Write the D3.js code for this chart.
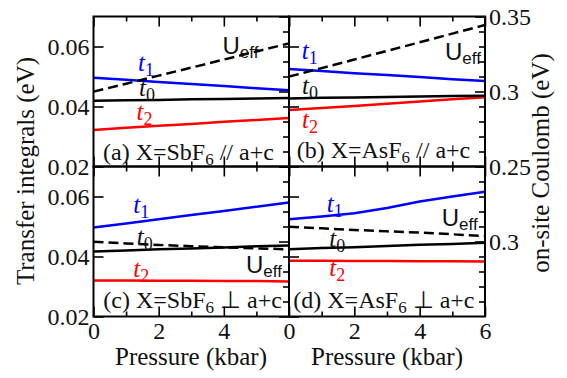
<!DOCTYPE html>
<html>
<head>
<meta charset="utf-8">
<script src="https://cdn.jsdelivr.net/npm/d3@7"></script>
<style>
svg text { font-family: serif !important; }
svg text.sans { font-family: sans-serif !important; }
</style>
</head>
<body style="margin:0">
<svg id="chart" width="567" height="378"></svg>
<script>
// pressure (kbar)
var pressure = [0, 1, 2, 3, 4, 5, 6];

// (a) X=SbF6 // a+c
var a_t1 = [0.0496, 0.0489, 0.0482, 0.0475, 0.0468, 0.0461, 0.0454];
var a_t0 = [0.0419, 0.0421, 0.0422, 0.0424, 0.0425, 0.0427, 0.0428];
var a_t2 = [0.0322, 0.0329, 0.0336, 0.0342, 0.0349, 0.0355, 0.0362];
var a_ueff = [0.2999, 0.3052, 0.3106, 0.3159, 0.3213, 0.3267, 0.3321];

// (b) X=AsF6 // a+c
var b_t1 = [0.0525, 0.0518, 0.0511, 0.0505, 0.0498, 0.0491, 0.0485];
var b_t0 = [0.0427, 0.0429, 0.0430, 0.0432, 0.0433, 0.0435, 0.0436];
var b_t2 = [0.0388, 0.0395, 0.0402, 0.0409, 0.0417, 0.0424, 0.0431];
var b_ueff = [0.3099, 0.3156, 0.3213, 0.3271, 0.3328, 0.3386, 0.3443];

// (c) X=SbF6 perp a+c
var c_t1 = [0.0497, 0.0510, 0.0524, 0.0538, 0.0552, 0.0566, 0.0580];
var c_t0 = [0.0417, 0.0420, 0.0424, 0.0427, 0.0430, 0.0434, 0.0437];
var c_t2 = [0.0320, 0.0320, 0.0319, 0.0319, 0.0318, 0.0318, 0.0317];
var c_ueff = [0.2999, 0.2987, 0.2977, 0.2969, 0.2961, 0.2954, 0.2948];

// (d) X=AsF6 perp a+c
var d_t1 = [0.0524, 0.0533, 0.0544, 0.0562, 0.0583, 0.0600, 0.0616];
var d_t0 = [0.0424, 0.0428, 0.0431, 0.0435, 0.0439, 0.0442, 0.0446];
var d_t2 = [0.0386, 0.0386, 0.0385, 0.0385, 0.0384, 0.0384, 0.0383];
var d_ueff = [0.3099, 0.3088, 0.3077, 0.3068, 0.3059, 0.3048, 0.3037];

var panelNames = ["(a) X=SbF", "(b) X=AsF", "(c) X=SbF", "(d) X=AsF"];
var panelDirs = [" // a+c", " // a+c", " \u22a5 a+c", " \u22a5 a+c"];

var leftTicks = [0.02, 0.04, 0.06];
var rightTicks = [0.25, 0.3, 0.35];
var rightMinor = [0.26, 0.27, 0.28, 0.29, 0.31, 0.32, 0.33, 0.34];
var xMajor = [0, 2, 4, 6];
var xMinor = [1, 3, 5];

var svg = d3.select("#chart").attr("font-family", "serif");

function serif(sel) {
  return sel.attr("font-family", "serif").style("font-family", "serif");
}

var colX = [[93.5, 289], [289, 485]];
var rowY = [[166.5, 16.5], [316.5, 166.5]];

// label offsets in px from the panel's top-left corner
var panels = [
  {col: 0, row: 0, t1: a_t1, t0: a_t0, t2: a_t2, u: a_ueff,
   lt1: [44.5, 54.5], lt0: [45.5, 79], lt2: [43, 103.5], lu: [129, 37], lp: [9.5, 143]},
  {col: 1, row: 0, t1: b_t1, t0: b_t0, t2: b_t2, u: b_ueff,
   lt1: [12.7, 42], lt0: [13, 77], lt2: [13, 111.5], lu: [156, 43.5], lp: [7.7, 141.5]},
  {col: 0, row: 1, t1: c_t1, t0: c_t0, t2: c_t2, u: c_ueff,
   lt1: [39.8, 46], lt0: [43.2, 78.5], lt2: [39.8, 110], lu: [152.5, 106.8], lp: [9.8, 141.8]},
  {col: 1, row: 1, t1: d_t1, t0: d_t0, t2: d_t2, u: d_ueff,
   lt1: [37.7, 45.2], lt0: [40.3, 80], lt2: [40.3, 109.5], lu: [152.7, 59.5], lp: [4.3, 141.8]}
];

panels.forEach(function(p, i) {
  var x = d3.scaleLinear().domain([0, 6]).range(colX[p.col]);
  var y = d3.scaleLinear().domain([0.02, 0.07]).range(rowY[p.row]);
  var u = d3.scaleLinear().domain([0.25, 0.35]).range(rowY[p.row]);
  var x0 = x.range()[0], x1 = x.range()[1];
  var y0 = y.range()[1], y1 = y.range()[0];

  var g = svg.append("g");
  var clipId = "clip" + i;
  g.append("clipPath").attr("id", clipId).append("rect")
    .attr("x", x0).attr("y", y0).attr("width", x1 - x0).attr("height", y1 - y0);

  var plot = g.append("g").attr("clip-path", "url(#" + clipId + ")");
  var lineY = d3.line().x(function(d, j) { return x(pressure[j]); }).y(function(d) { return y(d); });
  var lineU = d3.line().x(function(d, j) { return x(pressure[j]); }).y(function(d) { return u(d); });

  plot.append("path").attr("d", lineY(p.t2)).attr("fill", "none").attr("stroke", "#ff0000").attr("stroke-width", 2.5);
  plot.append("path").attr("d", lineY(p.t0)).attr("fill", "none").attr("stroke", "#000").attr("stroke-width", 2.5);
  plot.append("path").attr("d", lineY(p.t1)).attr("fill", "none").attr("stroke", "#0000ff").attr("stroke-width", 2.5);
  plot.append("path").attr("d", lineU(p.u)).attr("fill", "none").attr("stroke", "#000").attr("stroke-width", 2.5)
    .attr("stroke-dasharray", "10,5");

  // axes, ticks inward
  var showX = p.row == 1;
  var xt = p.col == 0 ? [0, 2, 4] : xMajor;
  var axes = g.append("g");
  axes.append("g").attr("transform", "translate(0," + y1 + ")")
    .call(d3.axisBottom(x).tickValues(showX ? xt : xMajor).tickSize(-10).tickPadding(5.5)
      .tickFormat(showX ? d3.format("d") : ""));
  axes.append("g").attr("transform", "translate(0," + y1 + ")")
    .call(d3.axisBottom(x).tickValues(xMinor).tickSize(-5).tickFormat(""));
  axes.append("g").attr("transform", "translate(0," + y0 + ")")
    .call(d3.axisTop(x).tickValues(xMajor).tickSize(-10).tickFormat(""));
  axes.append("g").attr("transform", "translate(0," + y0 + ")")
    .call(d3.axisTop(x).tickValues(xMinor).tickSize(-5).tickFormat(""));

  axes.append("g").attr("transform", "translate(" + x0 + ",0)")
    .call(d3.axisLeft(y).tickValues(leftTicks).tickSize(-10).tickPadding(4)
      .tickFormat(p.col == 0 ? d3.format(".2f") : ""));

  var rt = p.row == 0 ? rightTicks : [0.3];
  axes.append("g").attr("transform", "translate(" + x1 + ",0)")
    .call(d3.axisRight(u).tickValues(p.col == 1 ? rt : rightTicks).tickSize(-10).tickPadding(4)
      .tickFormat(p.col == 1 ? function(d) { return String(+d.toFixed(2)); } : ""));
  axes.append("g").attr("transform", "translate(" + x1 + ",0)")
    .call(d3.axisRight(u).tickValues(rightMinor).tickSize(-6).tickFormat(""));

  axes.selectAll(".domain").remove();
  serif(axes.selectAll("g").attr("font-size", 24));
  axes.selectAll(".tick line").attr("stroke", "#000").attr("stroke-width", 1.6);
  serif(axes.selectAll(".tick text")).attr("font-size", 24).attr("fill", "#111");

  g.append("rect").attr("x", x0).attr("y", y0).attr("width", x1 - x0).attr("height", y1 - y0)
    .attr("fill", "none").attr("stroke", "#000").attr("stroke-width", 2);

  // line labels
  function tLabel(pos, sub, color) {
    var t = serif(g.append("text")).attr("x", x0 + pos[0]).attr("y", y0 + pos[1])
      .attr("font-size", 25).attr("fill", color);
    t.append("tspan").attr("font-style", "italic").text("t");
    t.append("tspan").attr("font-size", 18).attr("dy", 5).text(sub);
  }
  tLabel(p.lt1, "1", "#0000ff");
  tLabel(p.lt0, "0", "#111");
  tLabel(p.lt2, "2", "#ff0000");

  var ut = g.append("text").attr("class", "sans").attr("x", x0 + p.lu[0]).attr("y", y0 + p.lu[1])
    .attr("font-family", "sans-serif").attr("font-size", 24).attr("fill", "#111");
  ut.append("tspan").text("U");
  ut.append("tspan").attr("font-size", 17).attr("dy", 4).text("eff");

  var pt = serif(g.append("text")).attr("x", x0 + p.lp[0]).attr("y", y0 + p.lp[1])
    .attr("font-size", 24).attr("fill", "#111");
  pt.append("tspan").text(panelNames[i]);
  pt.append("tspan").attr("font-size", 17).attr("dy", 5).text("6");
  pt.append("tspan").attr("dy", -5).text(panelDirs[i]);
});

// axis titles
function addTitle(tr, txt) {
  serif(svg.append("text")).attr("transform", tr).attr("text-anchor", "middle")
    .attr("font-size", 25).attr("fill", "#111").text(txt);
}
addTitle("translate(34,171) rotate(-90)", "Transfer integrals (eV)");
addTitle("translate(549,163) rotate(-90)", "on-site Coulomb (eV)");
addTitle("translate(191,365)", "Pressure (kbar)");
addTitle("translate(387,365)", "Pressure (kbar)");
</script>
</body>
</html>
